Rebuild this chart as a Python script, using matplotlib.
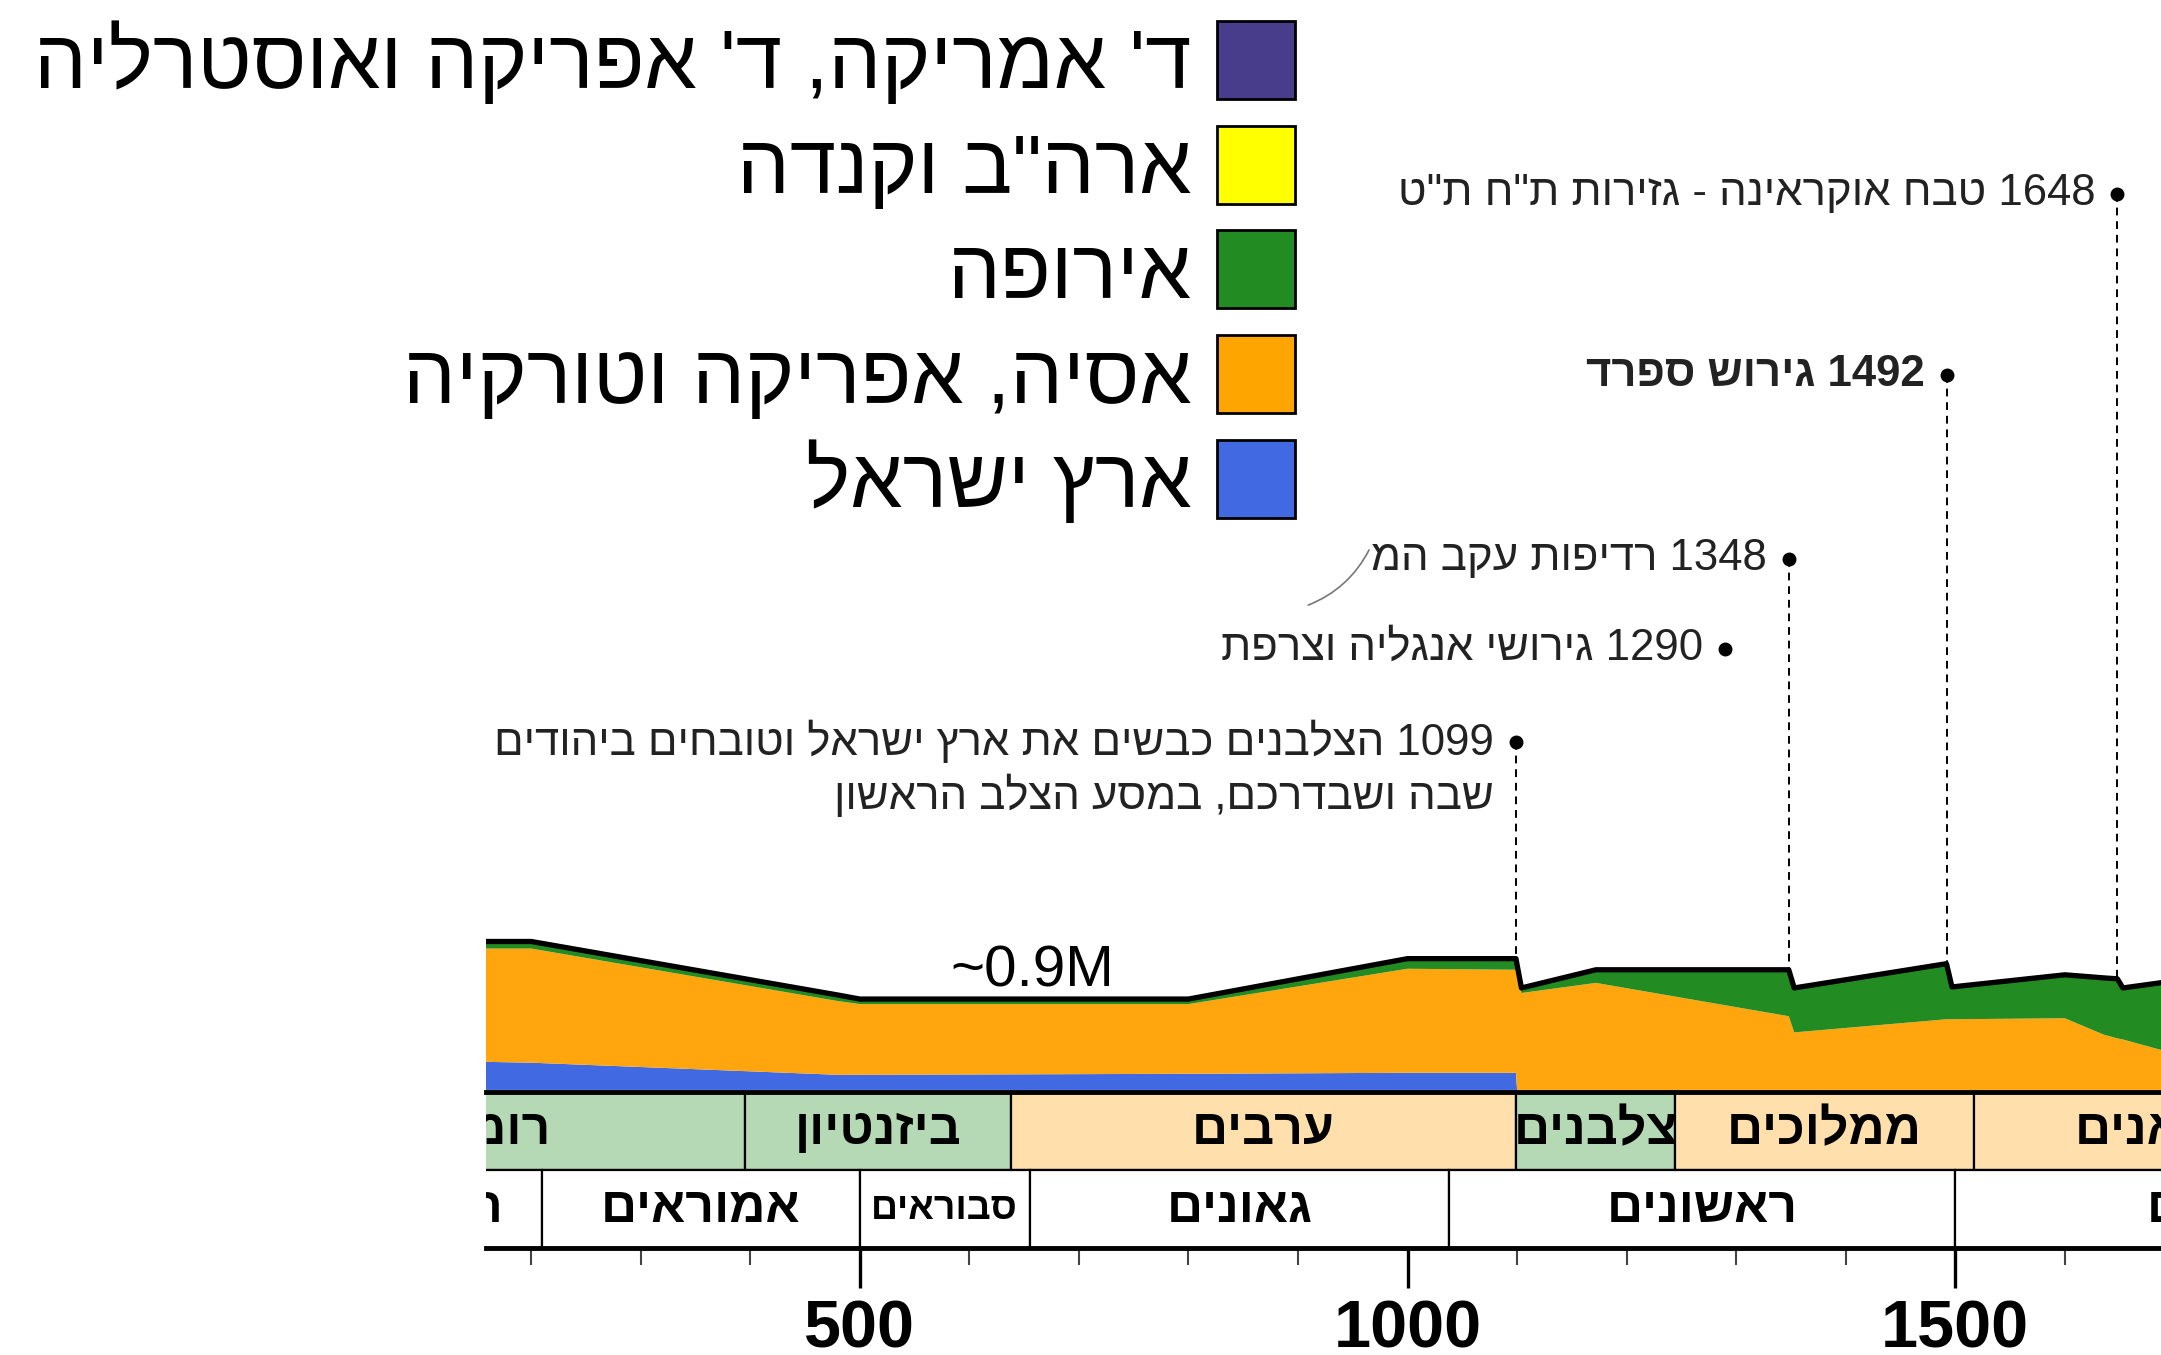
import re
import numpy as np
import matplotlib
matplotlib.use('Agg')
import matplotlib.pyplot as plt
from matplotlib.patches import Patch
from matplotlib.ticker import MultipleLocator

plt.rcParams['font.family'] = ['Liberation Sans', 'DejaVu Sans']


def heb(s):
    # matplotlib writes left to right: flip the hebrew, keep numbers in order
    r = s[::-1]
    return re.sub(r'[0-9A-Za-z.]+', lambda m: m.group(0)[::-1], r)


# jewish population (millions) by region
years = [150, 200, 480, 500, 800, 1000, 1099, 1100, 1104, 1172, 1348, 1353,
         1492, 1497, 1600, 1635, 1648, 1653, 1700]
israel = [0.28, 0.27, 0.15, 0.15, 0.16, 0.17, 0.17, 0.0, 0.0, 0.0, 0.0, 0.0,
          0.0, 0.0, 0.0, 0.0, 0.0, 0.0, 0.0]
asia_africa = [1.12, 1.13, 0.73, 0.70, 0.69, 1.03, 1.02, 1.14, 0.96, 1.06, 0.73, 0.57,
               0.70, 0.70, 0.71, 0.55, 0.51, 0.50, 0.36]
europe = [0.07, 0.07, 0.06, 0.05, 0.05, 0.10, 0.11, 0.10, 0.05, 0.13, 0.46, 0.44,
          0.55, 0.32, 0.43, 0.56, 0.59, 0.51, 0.72]
usa_canada = [0.0] * len(years)
other = [0.0] * len(years)

legend_labels = ["ד' אמריקה, ד' אפריקה ואוסטרליה", 'ארה"ב וקנדה', 'אירופה',
                 'אסיה, אפריקה וטורקיה', 'ארץ ישראל']
legend_colors = ['#483D8B', '#FFFF00', '#228B22', '#FFA500', '#4169E1']

# rulers of the land of israel
rulers = ['רומא', 'ביזנטיון', 'ערבים', 'צלבנים', 'ממלוכים', "עות'מאנים"]
rulers_start = [-63, 395, 638, 1099, 1244, 1517]
rulers_end = [395, 638, 1099, 1244, 1517, 1917]
rulers_color = ['#B4D9B4', '#B4D9B4', '#FFDFAB', '#B4D9B4', '#FFDFAB', '#FFDFAB']

# rabbinic periods
sages = ['תנאים', 'אמוראים', 'סבוראים', 'גאונים', 'ראשונים', 'אחרונים']
sages_start = [10, 210, 500, 655, 1038, 1500]
sages_end = [210, 500, 655, 1038, 1500, 2020]

event_years = [1099, 1290, 1348, 1492, 1648]
event_text = ['1099 הצלבנים כבשים את ארץ ישראל וטובחים ביהודים',
              '1290 גירושי אנגליה וצרפת',
              '1348 רדיפות עקב המ',
              '1492 גירוש ספרד',
              '1648 טבח אוקראינה - גזירות ת"ח ת"ט']
event_level = [3.44, 4.37, 5.26, 7.08, 8.87]
event_line = [True, False, True, True, True]
event_bold = [False, False, False, True, False]
event_extra = 'שבה ושבדרכם, במסע הצלב הראשון'

total = np.sum([israel, asia_africa, europe, usa_canada, other], axis=0)

fig = plt.figure(figsize=(21.61, 13.55), dpi=100)

# stacked areas
ax = fig.add_axes([0.2249, 0.1956, 0.7751, 0.8044])
ax.stackplot(years, israel, asia_africa, europe, usa_canada, other,
             colors=['#4169E1', '#FFA60F', '#228B22', '#FFFF00', '#483D8B'], lw=0)
ax.plot(years, total, color='black', lw=3.8)
ax.set_xlim(158.8, 1687.8)
ax.set_ylim(0, 10.79)
ax.axis('off')

ax.annotate('~0.9M', xy=(657, 0.9), xytext=(0, 9), textcoords='offset points',
            ha='center', va='baseline', fontsize=42)

for yr, txt, lvl, line, bold in zip(event_years, event_text, event_level, event_line, event_bold):
    ax.plot(yr, lvl, 'o', color='black', ms=9, clip_on=False)
    if line:
        ax.plot([yr, yr], [lvl, np.interp(yr, years, total)], color='black',
                lw=1.4, ls=(0, (4, 3)))
    ax.annotate(heb(txt), xy=(yr, lvl), xytext=(-16, 0), textcoords='offset points',
                ha='right', va='center', fontsize=31.5,
                fontweight='bold' if bold else 'normal', color='#222222')
ax.annotate(heb(event_extra), xy=(1099, event_level[0]), xytext=(-16, -39),
            textcoords='offset points', ha='right', va='center', fontsize=31.5,
            color='#222222')
# the odd little curve cutting the 1348 text
ax.annotate('', xy=(907, 4.79), xytext=(966, 5.37),
            arrowprops=dict(arrowstyle='-', color='#777777', lw=1.2,
                            connectionstyle='arc3,rad=-0.2'))

# period bands and the year axis
axb = fig.add_axes([0.2249, 0.0790, 0.7751, 0.1150])
for s, e, name, c in zip(rulers_start, rulers_end, rulers, rulers_color):
    axb.barh(1.5, e - s, left=s, height=1, color=c, edgecolor='black', lw=1.6)
    axb.text((s + e) / 2, 1.5, heb(name), ha='center', va='center', fontsize=36,
             fontweight='bold', clip_on=True)
for s, e, name in zip(sages_start, sages_end, sages):
    axb.barh(0.5, e - s, left=s, height=1, color='white', edgecolor='black', lw=1.6)
    axb.text((s + e) / 2, 0.5, heb(name), ha='center', va='center',
             fontsize=27 if name == 'סבוראים' else 36, fontweight='bold', clip_on=True)
axb.set_xlim(158.8, 1687.8)
axb.set_ylim(0, 2)
axb.set_yticks([])
for side in ['left', 'right']:
    axb.spines[side].set_visible(False)
axb.spines['top'].set_linewidth(3.5)
axb.spines['bottom'].set_linewidth(3.5)
axb.xaxis.set_major_locator(MultipleLocator(500))
axb.xaxis.set_minor_locator(MultipleLocator(100))
axb.tick_params(which='major', axis='x', direction='out', length=29, width=2.4,
                labelsize=48, pad=8)
axb.tick_params(which='minor', axis='x', direction='out', length=12, width=1.5,
                color='#444444')
for lbl in axb.get_xticklabels():
    lbl.set_fontweight('bold')

handles = [Patch(facecolor=c, edgecolor='black', lw=2) for c in legend_colors]
fig.legend(handles, [heb(t) for t in legend_labels], loc='upper right',
           bbox_to_anchor=(1295 / 2161, 1 - 21 / 1355), frameon=False, markerfirst=False,
           fontsize=60, handlelength=0.94, handleheight=1.06, handletextpad=0.3,
           labelspacing=0.245, borderpad=0, borderaxespad=0)

fig.savefig('out.png', dpi=100)
